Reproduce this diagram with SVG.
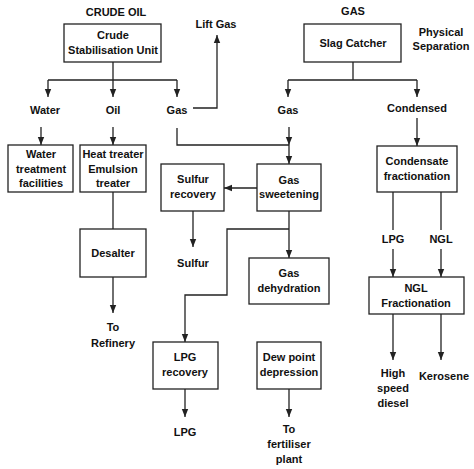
<svg xmlns="http://www.w3.org/2000/svg" width="474" height="469" viewBox="0 0 474 469">
<style>
.box{fill:#fff;stroke:#222;stroke-width:1.3}
.ln{fill:none;stroke:#222;stroke-width:1.3}
.ar{fill:none;stroke:#222;stroke-width:1.3;marker-end:url(#ah)}
text{font-family:"Liberation Sans",Arial,sans-serif;font-weight:bold;font-size:11px;fill:#111;text-anchor:middle}
</style>
<defs>
<marker id="ah" markerUnits="userSpaceOnUse" markerWidth="8" markerHeight="8" viewBox="0 0 8 8" refX="8" refY="4" orient="auto">
<path d="M0,0.8 L8,4 L0,7.2 Z" fill="#222"/>
</marker>
</defs>
<rect width="474" height="469" fill="#fff"/>
<g id="connectors">
<path class="ln" d="M113,62 V80 M48,80 H177"/>
<path class="ar" d="M48,80 V97"/>
<path class="ar" d="M113,80 V97"/>
<path class="ar" d="M177,80 V97"/>
<path class="ar" d="M193,108 H217 V35"/>
<path class="ar" d="M41,127 V145"/>
<path class="ar" d="M113,127 V145"/>
<path class="ln" d="M177,128 V145 H289"/>
<path class="ar" d="M289,127 V145"/>
<path class="ar" d="M289,145 V164"/>
<path class="ln" d="M353,62 V80 M288,80 H417"/>
<path class="ar" d="M288,80 V97"/>
<path class="ar" d="M417,80 V97"/>
<path class="ar" d="M417,118 V146"/>
<path class="ar" d="M257,188 H224"/>
<path class="ar" d="M193,211 V247"/>
<path class="ar" d="M289,211 V258"/>
<path class="ar" d="M289,229 H227 V295 H185 V342"/>
<path class="ar" d="M185,389 V417"/>
<path class="ln" d="M113,192 V229"/>
<path class="ar" d="M113,277 V313"/>
<path class="ln" d="M393,192 V230"/>
<path class="ar" d="M393,249 V277"/>
<path class="ln" d="M441,192 V230"/>
<path class="ar" d="M441,249 V277"/>
<path class="ar" d="M393,314 V360"/>
<path class="ar" d="M441,314 V360"/>
<path class="ar" d="M289,389 V417"/>
</g>
<g id="labels">
<text x="116" y="16">CRUDE OIL</text>
<text x="353" y="15">GAS</text>
<text x="216" y="28">Lift Gas</text>
<text x="441" y="36">Physical</text>
<text x="441" y="50">Separation</text>
<text x="45" y="114">Water</text>
<text x="113" y="114">Oil</text>
<text x="177" y="114">Gas</text>
<text x="288" y="114">Gas</text>
<text x="417" y="112">Condensed</text>
<text x="193" y="267">Sulfur</text>
<text x="393" y="243">LPG</text>
<text x="441" y="243">NGL</text>
<text x="113" y="331">To</text>
<text x="113" y="347">Refinery</text>
<text x="185" y="436">LPG</text>
<text x="289" y="433">To</text>
<text x="289" y="448">fertiliser</text>
<text x="289" y="463">plant</text>
<text x="393" y="377">High</text>
<text x="393" y="392">speed</text>
<text x="393" y="407">diesel</text>
<text x="444" y="380">Kerosene</text>
</g>
<g id="crude-stabilisation">
<rect class="box" x="64" y="24" width="97" height="38"/>
<text x="113" y="39">Crude</text>
<text x="113" y="54">Stabilisation Unit</text>
</g>
<g id="slag-catcher">
<rect class="box" x="304" y="24" width="97" height="38"/>
<text x="353" y="47">Slag Catcher</text>
</g>
<g id="water-treatment">
<rect class="box" x="8" y="145" width="65" height="47"/>
<text x="41" y="158">Water</text>
<text x="41" y="173">treatment</text>
<text x="41" y="187">facilities</text>
</g>
<g id="heat-treater">
<rect class="box" x="80" y="145" width="66" height="47"/>
<text x="113" y="158">Heat treater</text>
<text x="113" y="173">Emulsion</text>
<text x="113" y="187">treater</text>
</g>
<g id="sulfur-recovery">
<rect class="box" x="161" y="164" width="63" height="47"/>
<text x="193" y="183">Sulfur</text>
<text x="193" y="198">recovery</text>
</g>
<g id="gas-sweetening">
<rect class="box" x="257" y="164" width="64" height="47"/>
<text x="289" y="184">Gas</text>
<text x="289" y="198">sweetening</text>
</g>
<g id="condensate-fractionation">
<rect class="box" x="377" y="146" width="80" height="46"/>
<text x="417" y="165">Condensate</text>
<text x="417" y="180">fractionation</text>
</g>
<g id="desalter">
<rect class="box" x="80" y="229" width="66" height="48"/>
<text x="113" y="257">Desalter</text>
</g>
<g id="gas-dehydration">
<rect class="box" x="249" y="258" width="80" height="46"/>
<text x="289" y="277">Gas</text>
<text x="289" y="292">dehydration</text>
</g>
<g id="ngl-fractionation">
<rect class="box" x="369" y="277" width="95" height="37"/>
<text x="416" y="292">NGL</text>
<text x="416" y="307">Fractionation</text>
</g>
<g id="lpg-recovery">
<rect class="box" x="153" y="342" width="65" height="47"/>
<text x="185" y="361">LPG</text>
<text x="185" y="376">recovery</text>
</g>
<g id="dew-point">
<rect class="box" x="257" y="342" width="64" height="47"/>
<text x="289" y="361">Dew point</text>
<text x="289" y="376">depression</text>
</g>
</svg>
